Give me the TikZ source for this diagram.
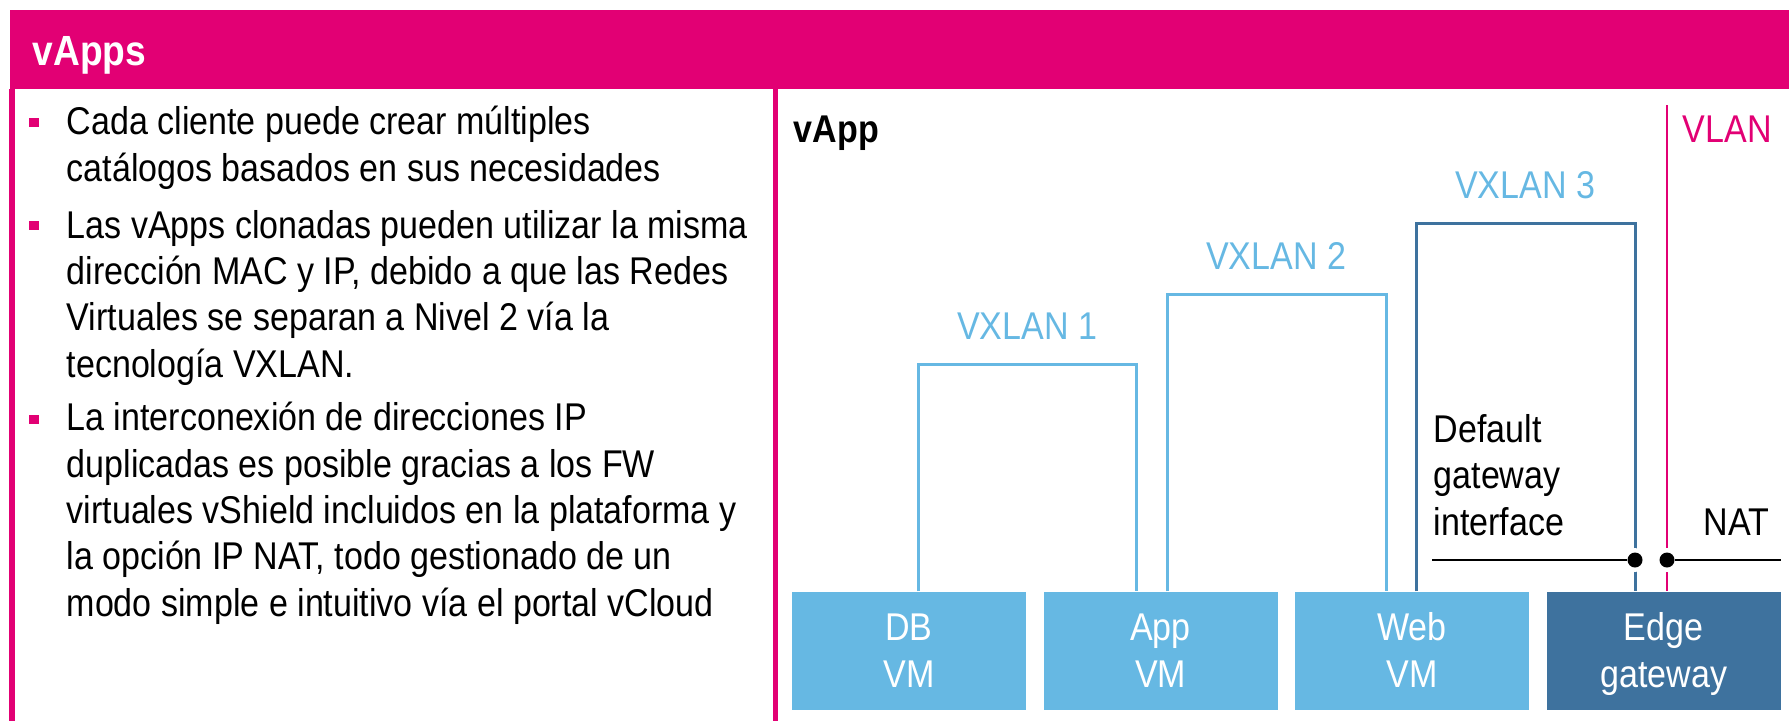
\documentclass[tikz,border=0pt]{standalone}
\usepackage{fontspec}
\setmainfont{Liberation Sans}[FakeStretch=0.88]
\usetikzlibrary{positioning}
\definecolor{tmagenta}{HTML}{E20074}
\definecolor{lanblue}{HTML}{66B8E3}
\definecolor{edgeblue}{HTML}{3E729E}
\tikzset{
  txt/.style={font=\fontsize{11}{13.17}\selectfont, inner sep=0pt},
  bulletpar/.style={txt, anchor=base west, align=left},
  bulletmark/.style={fill=tmagenta, minimum size=0.09cm, inner sep=0pt},
  vmbox/.style={txt, fill=lanblue, text=white, minimum width=2.34cm, minimum height=1.18cm,
    align=center, text height=21.17pt, text depth=0.68pt},
  lanlabel/.style={txt, text=lanblue, anchor=base},
  lanline/.style={draw=lanblue, line width=0.03cm},
  gwline/.style={draw=edgeblue, line width=0.03cm},
  vlanline/.style={draw=tmagenta, line width=0.028cm},
  natline/.style={draw=black, line width=0.025cm},
  gwdot/.style={circle, fill=black, minimum size=0.15cm, inner sep=0pt}
}
\begin{document}
\begin{tikzpicture}[x=0.01cm, y=-0.01cm]
\useasboundingbox (0,0) rectangle (1789,721);
% frame
\fill[tmagenta] (10,10) rectangle (1789,89);
\node[txt, font=\fontsize{12}{14}\selectfont\bfseries, text=white, anchor=base west] (title) at (32,65) {vApps};
\draw[tmagenta, line width=0.05cm] (12,89) -- (12,721);
\draw[tmagenta, line width=0.05cm] (775.5,89) -- (775.5,721);
% left column (base = last line)
\node[bulletmark] (m1) at (34,122) {};
\node[bulletpar] (p1) at (66,181) {Cada cliente puede crear múltiples\\catálogos basados en sus necesidades};
\node[bulletmark] (m2) at (34,225) {};
\node[bulletpar] (p2) at (66,377) {Las vApps clonadas pueden utilizar la misma\\dirección MAC y IP, debido a que las Redes\\Virtuales se separan a Nivel 2 vía la\\tecnología VXLAN.};
\node[bulletmark] (m3) at (34,419) {};
\node[bulletpar] (p3) at (66,616) {La interconexión de direcciones IP\\duplicadas es posible gracias a los FW\\virtuales vShield incluidos en la plataforma y\\la opción IP NAT, todo gestionado de un\\modo simple e intuitivo vía el portal vCloud};
% right column
\node[txt, font=\fontsize{11}{13.17}\selectfont\bfseries, anchor=base west] (vapp) at (793,142) {vApp};
\node[txt, text=tmagenta, anchor=base west] (vlan) at (1682,142) {VLAN};
\node[vmbox] (db) at (909,651) {DB\\VM};
\node[vmbox, right=0.16cm of db] (app) {App\\VM};
\node[vmbox, right=0.16cm of app] (web) {Web\\VM};
\node[vmbox, fill=edgeblue, right=0.16cm of web] (edge) {Edge\\gateway};
\coordinate (x1l) at (918,364);
\coordinate (x1r) at (1136,364);
\coordinate (x2l) at (1167,294);
\coordinate (x2r) at (1386,294);
\coordinate (x3l) at (1416,223);
\coordinate (x3r) at (1635,223);
\coordinate (vtop) at (1667,105);
\draw[lanline] (x1l |- db.north) -- (x1l) -- (x1r) -- (x1r |- app.north);
\draw[lanline] (x2l |- app.north) -- (x2l) -- (x2r) -- (x2r |- web.north);
\draw[gwline] (x3l |- web.north) -- (x3l) -- (x3r) -- (x3r |- edge.north);
\draw[vlanline] (vtop) -- (vtop |- edge.north);
\node[lanlabel] (l1) at (1027,339) {VXLAN 1};
\node[lanlabel] (l2) at (1276,269) {VXLAN 2};
\node[lanlabel] (l3) at (1525,198) {VXLAN 3};
\node[txt, anchor=base west, align=left] (dgw) at (1433,535) {Default\\gateway\\interface};
\node[txt, anchor=base west] (nat) at (1703,535) {NAT};
\fill[white] (1635,560) circle (0.12cm) (1667,560) circle (0.12cm);
\node[gwdot] (gw1) at (1635,560) {};
\node[gwdot] (gw2) at (1667,560) {};
\coordinate (natl) at (1432,560);
\draw[natline] (natl) -- (gw1);
\draw[natline] (gw2) -- (gw2 -| edge.east);
\end{tikzpicture}
\end{document}
